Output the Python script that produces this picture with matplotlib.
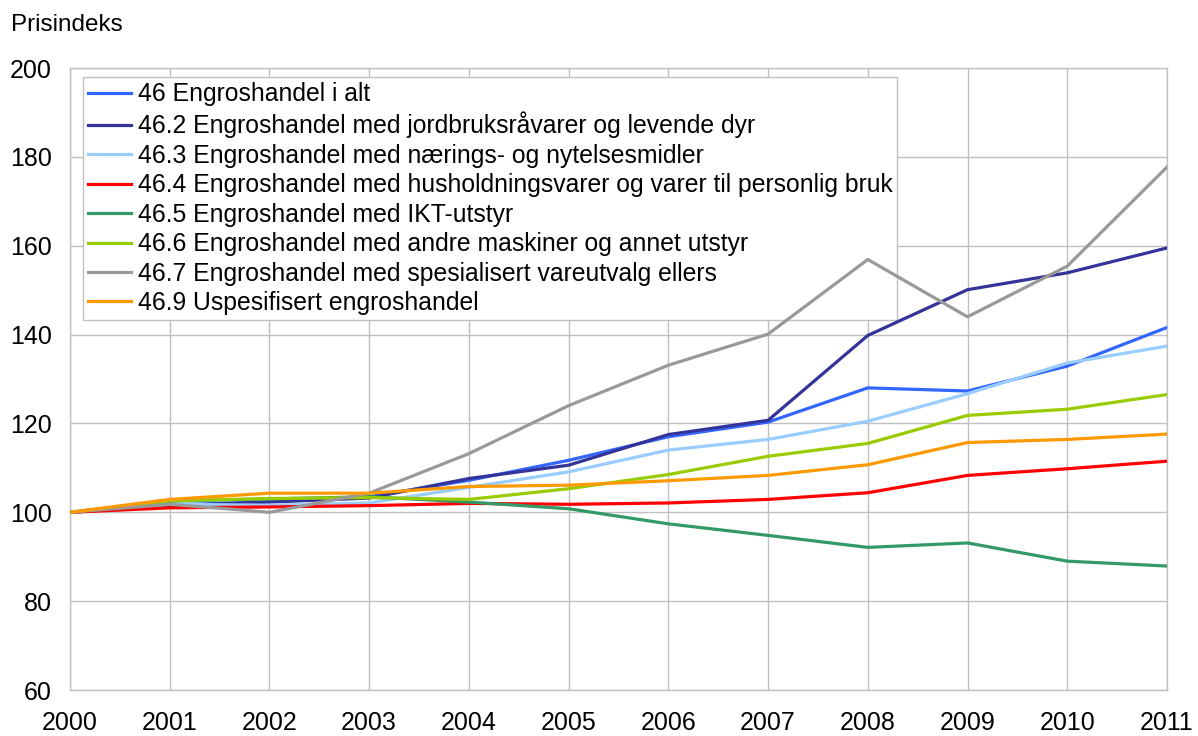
import matplotlib
matplotlib.use("Agg")
import matplotlib.pyplot as plt

plt.rcParams['font.family'] = ['Liberation Sans', 'DejaVu Sans']

years = [2000, 2001, 2002, 2003, 2004, 2005, 2006, 2007, 2008, 2009, 2010, 2011]

labels = [
    "46 Engroshandel i alt",
    "46.2 Engroshandel med jordbruksråvarer og levende dyr",
    "46.3 Engroshandel med nærings- og nytelsesmidler",
    "46.4 Engroshandel med husholdningsvarer og varer til personlig bruk",
    "46.5 Engroshandel med IKT-utstyr",
    "46.6 Engroshandel med andre maskiner og annet utstyr",
    "46.7 Engroshandel med spesialisert vareutvalg ellers",
    "46.9 Uspesifisert engroshandel",
]

total = [100, 101.6, 102.4, 103.5, 107.2, 111.7, 117.0, 120.3, 128.0, 127.3, 132.9, 141.6]
jordbruk = [100, 101.5, 102.3, 103.2, 107.6, 110.6, 117.5, 120.7, 139.8, 150.1, 153.9, 159.5]
naering = [100, 101.8, 101.6, 102.1, 105.6, 109.1, 114.0, 116.4, 120.5, 126.7, 133.6, 137.4]
husholdning = [100, 101.0, 101.2, 101.5, 102.0, 101.8, 102.1, 102.9, 104.4, 108.3, 109.8, 111.5]
ikt = [100, 102.5, 103.0, 103.5, 102.3, 100.8, 97.4, 94.8, 92.1, 93.1, 89.0, 87.9]
maskiner = [100, 102.6, 103.1, 103.3, 102.9, 105.3, 108.5, 112.6, 115.5, 121.8, 123.2, 126.5]
spesialisert = [100, 101.8, 100.0, 104.3, 113.2, 124.0, 133.1, 140.1, 156.9, 144.0, 155.4, 177.7]
uspesifisert = [100, 102.9, 104.3, 104.3, 105.8, 106.1, 107.1, 108.3, 110.7, 115.7, 116.4, 117.6]

series = [total, jordbruk, naering, husholdning, ikt, maskiner, spesialisert, uspesifisert]
colors = ["#3366ff", "#333399", "#99ccff", "#ff0000", "#339966", "#99cc00", "#999999", "#ff9900"]

fig = plt.figure(figsize=(11.98, 7.36), dpi=100)
ax = fig.add_axes([0.0584, 0.0625, 0.9157, 0.8451])

for vals, lab, c in zip(series, labels, colors):
    ax.plot(years, vals, color=c, lw=2.3, label=lab, zorder=3)

ax.set_xlim(2000, 2011)
ax.set_ylim(60, 200)
ax.set_xticks(years)
ax.set_yticks(range(60, 201, 20))
ax.grid(True, color="#c0c0c0", lw=1.0)
ax.set_axisbelow(True)
for s in ax.spines.values():
    s.set_color("#c0c0c0")
    s.set_linewidth(1.0)
ax.tick_params(length=0, labelsize=18)
ax.tick_params(axis="x", pad=15)
ax.tick_params(axis="y", pad=13)

fig.text(0.009, 0.966, "Prisindeks", fontsize=17.5, va="center", ha="left")

leg = ax.legend(loc="upper left", bbox_to_anchor=(0.012, 0.985), fontsize=17.8,
                frameon=True, fancybox=False, edgecolor="#c0c0c0", framealpha=1,
                handlelength=1.75, handletextpad=0.25, labelspacing=0.22,
                borderpad=0.2, borderaxespad=0)
leg.get_frame().set_linewidth(1.0)
leg.set_zorder(2)

fig.savefig("out.png", dpi=100)
